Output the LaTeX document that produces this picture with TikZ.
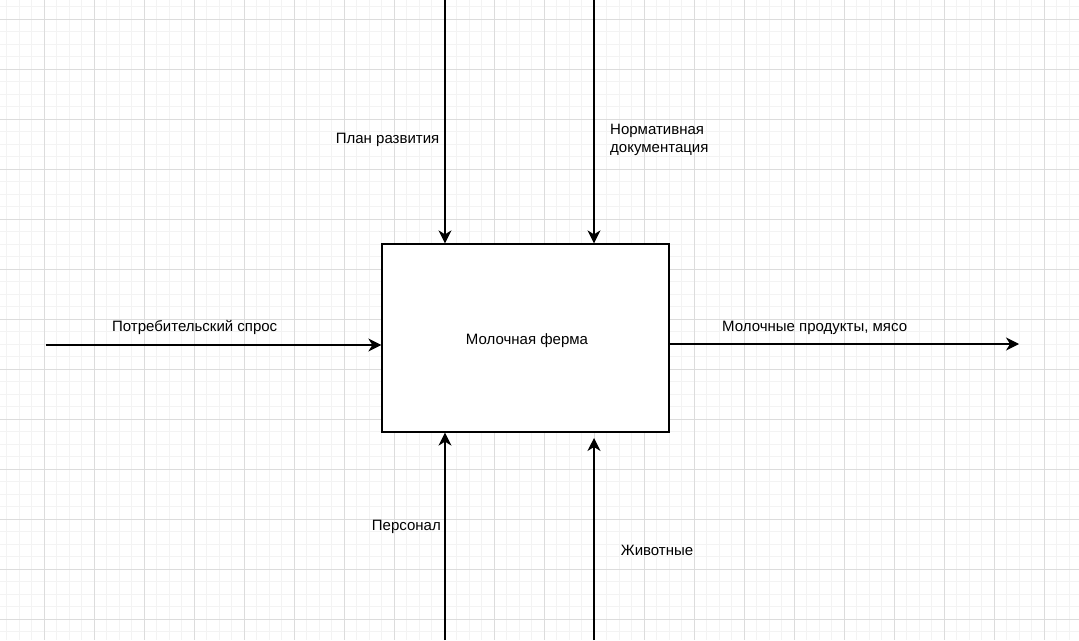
\documentclass[tikz,border=0pt]{standalone}
\usepackage{fontspec}
\setmainfont{Liberation Sans}
\usetikzlibrary{arrows.meta}
\definecolor{gridminor}{RGB}{243,243,243}
\definecolor{gridmajor}{RGB}{220,220,220}
\tikzset{
  minorline/.style={draw=gridminor,line width=1pt},
  majorline/.style={draw=gridmajor,line width=1pt},
  conn/.style={draw=black,line width=1.3pt,-{Stealth[length=13pt,width=13pt,inset=4pt]}},
  procbox/.style={draw=black,line width=1.3pt,fill=white,minimum width=287pt,minimum height=188pt,inner sep=0pt},
  lbl/.style={inner sep=0pt,font=\fontsize{15}{18}\selectfont,align=left}
}
\begin{document}
\begin{tikzpicture}[x=1pt,y=-1pt]
\useasboundingbox (0,0) rectangle (1079,640);
\fill[white] (0,0) rectangle (1079,640);
% grid
\foreach \i in {0,...,86} \draw[minorline] ({6.8+12.5*\i},0) -- ({6.8+12.5*\i},640);
\foreach \i in {0,...,51} \draw[minorline] (0,{6.8+12.5*\i}) -- (1079,{6.8+12.5*\i});
\foreach \i in {0,...,21} \draw[majorline] ({44.3+50*\i},0) -- ({44.3+50*\i},640);
\foreach \i in {0,...,12} \draw[majorline] (0,{19.3+50*\i}) -- (1079,{19.3+50*\i});
% process box
\node[procbox] (farm) at (525.5,338) {};
\node[lbl,anchor=base] (ltitle) at (527,344.5) {Молочная ферма};
% connector ends
\coordinate (plan) at (445,0);
\coordinate (norm) at (594,0);
\coordinate (pers) at (445,640);
\coordinate (anim) at (594,640);
\coordinate (anime) at (594,438);
\coordinate (dem) at (46,345);
\coordinate (prod) at (1019,344);
\draw[conn] (plan) -- (plan |- farm.north);
\draw[conn] (norm) -- (norm |- farm.north);
\draw[conn] (pers) -- (pers |- farm.south);
\draw[conn] (anim) -- (anime);
\draw[conn] (dem) -- (dem -| farm.west);
\draw[conn] (prod -| farm.east) -- (prod);
% labels
\node[lbl,anchor=base east] (lplan) at (439.5,143.3) {План развития};
\node[lbl,anchor=base west] (lnorm1) at (610,134.5) {Нормативная};
\node[lbl,anchor=base west] (lnorm2) at (610,152.5) {документация};
\node[lbl,anchor=base] (ldem) at (194.7,331) {Потребительский спрос};
\node[lbl,anchor=base west] (lprod) at (722,331) {Молочные продукты, мясо};
\node[lbl,anchor=base east] (lpers) at (441,530.7) {Персонал};
\node[lbl,anchor=base west] (lanim) at (620.7,555.7) {Животные};
\end{tikzpicture}
\end{document}
